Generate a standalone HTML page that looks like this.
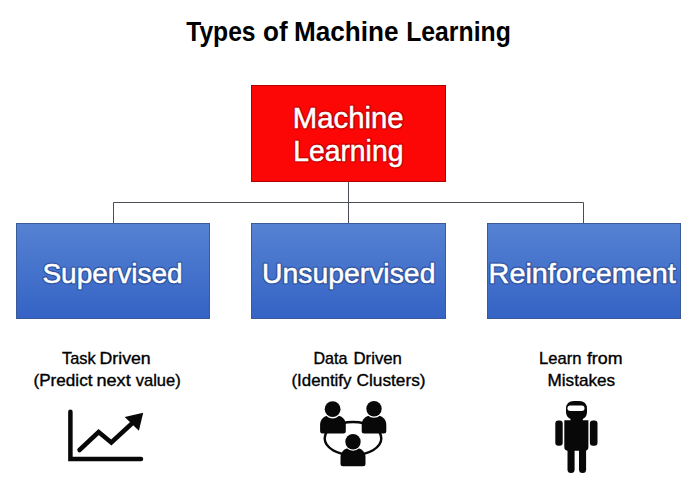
<!DOCTYPE html>
<html><head><meta charset="utf-8">
<style>
html,body{margin:0;padding:0;background:#fff;}
body{width:700px;height:481px;overflow:hidden;}
svg{display:block;}
text{font-family:"Liberation Sans",sans-serif;}
</style></head>
<body>
<svg width="700" height="481" viewBox="0 0 700 481">
<defs>
<linearGradient id="bg" x1="0" y1="0" x2="0" y2="1">
<stop offset="0" stop-color="#5582d2"/>
<stop offset="1" stop-color="#3563c5"/>
</linearGradient>
</defs>
<rect x="0" y="0" width="700" height="481" fill="#fff"/>
<text x="186.20" y="40.8" font-size="27.5" font-weight="bold" fill="#000" textLength="69.40" lengthAdjust="spacingAndGlyphs" >Types</text>
<text x="263.00" y="40.8" font-size="27.5" font-weight="bold" fill="#000" textLength="24.60" lengthAdjust="spacingAndGlyphs" >of</text>
<text x="294.00" y="40.8" font-size="27.5" font-weight="bold" fill="#000" textLength="104.60" lengthAdjust="spacingAndGlyphs" >Machine</text>
<text x="406.20" y="40.8" font-size="27.5" font-weight="bold" fill="#000" textLength="104.60" lengthAdjust="spacingAndGlyphs" >Learning</text>
<rect x="251.5" y="85.5" width="194" height="96" fill="#fc0606" stroke="#b00000" stroke-width="1"/>
<g stroke="#a00000" stroke-width="3.0" stroke-linejoin="round" opacity="0.6">
<text x="292.80" y="128" font-size="29.5" font-weight="normal" fill="#a00000" textLength="110.80" lengthAdjust="spacingAndGlyphs" >Machine</text>
<text x="293.20" y="161.3" font-size="29.5" font-weight="normal" fill="#a00000" textLength="110.20" lengthAdjust="spacingAndGlyphs" >Learning</text>
</g>
<g stroke="#fff" stroke-width="0.5">
<text x="292.80" y="128" font-size="29.5" font-weight="normal" fill="#fff" textLength="110.80" lengthAdjust="spacingAndGlyphs" >Machine</text>
<text x="293.20" y="161.3" font-size="29.5" font-weight="normal" fill="#fff" textLength="110.20" lengthAdjust="spacingAndGlyphs" >Learning</text>
</g>
<g stroke="#4a4f57" stroke-width="1" fill="none">
<path d="M348.5 182 V223"/>
<path d="M113.5 223 V202.5 H583.5 V223"/>
</g>
<rect x="16.5" y="223.5" width="193" height="95" fill="url(#bg)" stroke="#3a5a9a" stroke-width="1"/>
<rect x="251.5" y="223.5" width="194" height="95" fill="url(#bg)" stroke="#3a5a9a" stroke-width="1"/>
<rect x="487.5" y="223.5" width="193" height="95" fill="url(#bg)" stroke="#3a5a9a" stroke-width="1"/>
<g stroke="#1f3f80" stroke-width="3.0" stroke-linejoin="round" opacity="0.6">
<text x="42.40" y="282.6" font-size="28.3" font-weight="normal" fill="#1f3f80" textLength="140.20" lengthAdjust="spacingAndGlyphs" >Supervised</text>
<text x="262.00" y="282.6" font-size="28.3" font-weight="normal" fill="#1f3f80" textLength="173.40" lengthAdjust="spacingAndGlyphs" >Unsupervised</text>
<text x="488.60" y="282.6" font-size="28.3" font-weight="normal" fill="#1f3f80" textLength="187.20" lengthAdjust="spacingAndGlyphs" >Reinforcement</text>
</g>
<g stroke="#fff" stroke-width="0.5">
<text x="42.40" y="282.6" font-size="28.3" font-weight="normal" fill="#fff" textLength="140.20" lengthAdjust="spacingAndGlyphs" >Supervised</text>
<text x="262.00" y="282.6" font-size="28.3" font-weight="normal" fill="#fff" textLength="173.40" lengthAdjust="spacingAndGlyphs" >Unsupervised</text>
<text x="488.60" y="282.6" font-size="28.3" font-weight="normal" fill="#fff" textLength="187.20" lengthAdjust="spacingAndGlyphs" >Reinforcement</text>
</g>
<g stroke="#000" stroke-width="0.35">
<text x="62.10" y="363.7" font-size="16.2" font-weight="normal" fill="#000" textLength="33.60" lengthAdjust="spacingAndGlyphs" >Task</text>
<text x="99.50" y="363.7" font-size="16.2" font-weight="normal" fill="#000" textLength="51.20" lengthAdjust="spacingAndGlyphs" >Driven</text>
<text x="33.50" y="385.5" font-size="16.2" font-weight="normal" fill="#000" textLength="59.00" lengthAdjust="spacingAndGlyphs" >(Predict</text>
<text x="96.50" y="385.5" font-size="16.2" font-weight="normal" fill="#000" textLength="34.20" lengthAdjust="spacingAndGlyphs" >next</text>
<text x="135.70" y="385.5" font-size="16.2" font-weight="normal" fill="#000" textLength="45.00" lengthAdjust="spacingAndGlyphs" >value)</text>
<text x="313.50" y="363.7" font-size="16.2" font-weight="normal" fill="#000" textLength="34.00" lengthAdjust="spacingAndGlyphs" >Data</text>
<text x="353.50" y="363.7" font-size="16.2" font-weight="normal" fill="#000" textLength="48.40" lengthAdjust="spacingAndGlyphs" >Driven</text>
<text x="291.50" y="385.5" font-size="16.2" font-weight="normal" fill="#000" textLength="60.00" lengthAdjust="spacingAndGlyphs" >(Identify</text>
<text x="356.50" y="385.5" font-size="16.2" font-weight="normal" fill="#000" textLength="69.00" lengthAdjust="spacingAndGlyphs" >Clusters)</text>
<text x="539.10" y="363.7" font-size="16.2" font-weight="normal" fill="#000" textLength="42.40" lengthAdjust="spacingAndGlyphs" >Learn</text>
<text x="586.90" y="363.7" font-size="16.2" font-weight="normal" fill="#000" textLength="35.60" lengthAdjust="spacingAndGlyphs" >from</text>
<text x="547.50" y="385.5" font-size="16.2" font-weight="normal" fill="#000" textLength="67.60" lengthAdjust="spacingAndGlyphs" >Mistakes</text>
</g>
<!-- chart icon -->
<g fill="none" stroke="#080808" stroke-width="4.5" stroke-linecap="round" stroke-linejoin="miter">
<path d="M70.4 411.7 V459 H141"/>
<path d="M79.5 450 L98.6 432 L111.3 442.5 L133 422.5" stroke-linecap="round"/>
</g>
<path d="M124.7 416.9 L143.2 412.8 L138.9 430.8 Z" fill="#080808"/>
<!-- group icon -->
<ellipse cx="353" cy="438.5" rx="28.3" ry="16.5" fill="none" stroke="#080808" stroke-width="2.4"/>
<g fill="#080808">
<path d="M320.1 431.0 V424.5 C320.1 419.55 324.15000000000003 415.5 329.1 415.5 H336.8 C341.75 415.5 345.8 419.55 345.8 424.5 V431.0 Q345.8 433.5 343.3 433.5 H322.6 Q320.1 433.5 320.1 431.0 Z"/>
<path d="M361.7 431.0 V424.5 C361.7 419.55 365.75 415.5 370.7 415.5 H377.3 C382.25 415.5 386.3 419.55 386.3 424.5 V431.0 Q386.3 433.5 383.8 433.5 H364.2 Q361.7 433.5 361.7 431.0 Z"/>
<path d="M340.5 463.7 V457 C340.5 452.05 344.55 448 349.5 448 H356.5 C361.45 448 365.5 452.05 365.5 457 V463.7 Q365.5 466.2 363.0 466.2 H343.0 Q340.5 466.2 340.5 463.7 Z"/>
</g>
<g fill="#080808" stroke="#fff" stroke-width="2.6" style="paint-order:stroke">
<circle cx="332.6" cy="409.2" r="7.9"/>
<circle cx="374" cy="408.8" r="7.7"/>
<circle cx="353" cy="441.7" r="7.7"/>
</g>
<!-- robot icon -->
<g fill="#080808">
<path d="M566 412 V409 Q566 401 574 401 H579 Q587 401 587 409 V412 Q587 417 582.8 419 V421 H570.5 V419 Q566 417 566 412 Z"/>
<path d="M564.3 420.2 H588.4 V447 Q588.4 450.8 584.6 450.8 H568.1 Q564.3 450.8 564.3 447 Z"/>
<rect x="555.3" y="420.5" width="7.4" height="25.2" rx="3"/>
<rect x="589.9" y="420.5" width="7.6" height="25.2" rx="3"/>
<rect x="567.5" y="444" width="7.1" height="29" rx="3.5"/>
<rect x="579" y="444" width="7.1" height="29" rx="3.5"/>
</g>
<rect x="567.5" y="405.6" width="17" height="5.4" rx="2.7" fill="#fff"/>

</svg>
</body></html>
